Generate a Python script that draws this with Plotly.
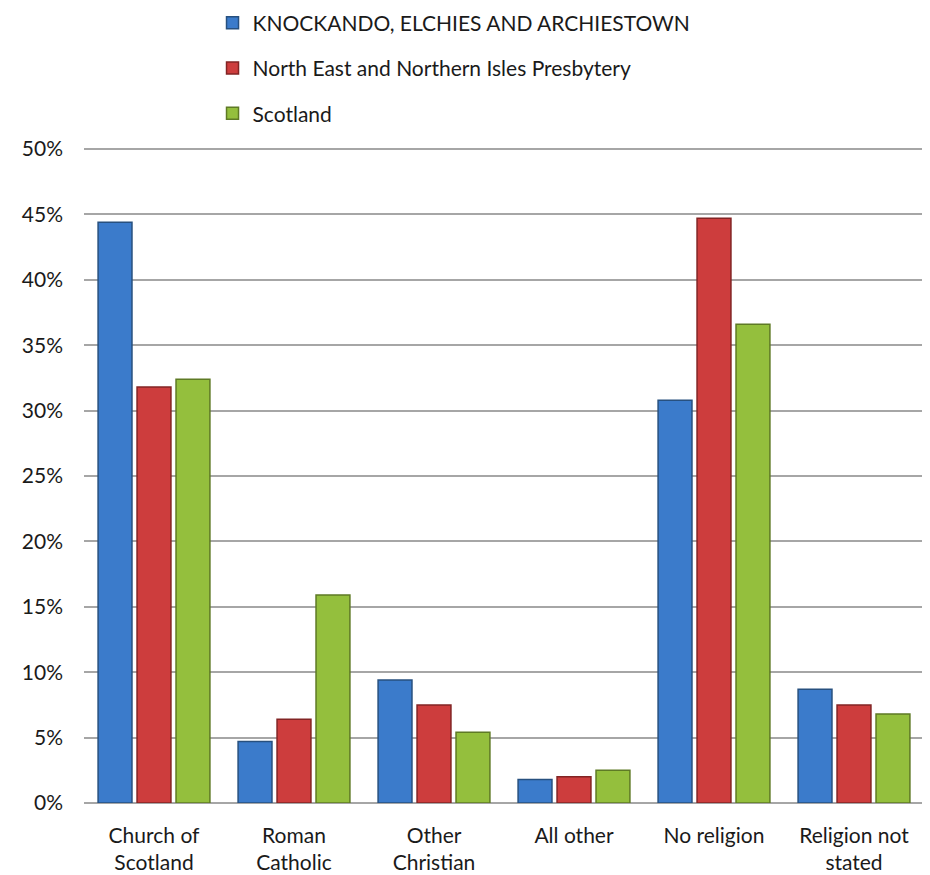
import plotly.graph_objects as go

categories = ["Church of<br>Scotland", "Roman<br>Catholic", "Other<br>Christian",
              "All other", "No religion", "Religion not<br>stated"]
series_names = ["KNOCKANDO, ELCHIES AND ARCHIESTOWN",
                "North East and Northern Isles Presbytery",
                "Scotland"]
knockando = [44.4, 4.7, 9.4, 1.8, 30.8, 8.7]
presbytery = [31.8, 6.4, 7.5, 2.0, 44.7, 7.5]
scotland = [32.4, 15.9, 5.4, 2.5, 36.6, 6.8]
y_ticks = [0, 5, 10, 15, 20, 25, 30, 35, 40, 45, 50]
y_tick_labels = [f"{v}%" for v in y_ticks]

series_values = [knockando, presbytery, scotland]
fills = ["#3b7bcb", "#cd3d3d", "#94bf3d"]
edges = ["#27507f", "#822424", "#5e7a25"]

fig = go.Figure()
for i, (name, vals) in enumerate(zip(series_names, series_values)):
    fig.add_trace(go.Bar(
        name=name, x=categories, y=vals,
        marker=dict(color=fills[i], line=dict(color=edges[i], width=1.5)),
        legendgroup=f"g{i}",
    ))

font = "Lato, Carlito, 'Open Sans', sans-serif"
fig.update_layout(
    width=930, height=875,
    margin=dict(l=76, r=14, t=140, b=80, autoexpand=False),
    paper_bgcolor="white", plot_bgcolor="white",
    barmode="group", bargap=0.165, bargroupgap=0.13,
    font=dict(family=font, size=21, color="#1a1a1a"),
    showlegend=True,
    legend=dict(x=0.153, y=1.222, xanchor="left", yanchor="top",
                orientation="v", tracegroupgap=15, bgcolor="rgba(0,0,0,0)",
                font=dict(size=21), itemwidth=30),
    xaxis=dict(showgrid=False, showline=False, ticks="",
               ticklabelstandoff=18, tickfont=dict(size=21)),
    yaxis=dict(range=[0, 50.08], tickvals=y_ticks, ticktext=y_tick_labels,
               showgrid=True, gridcolor="#a6a6a6", gridwidth=1.5,
               zeroline=True, zerolinecolor="#a6a6a6", zerolinewidth=1.5,
               showline=False, ticks="", ticklabelstandoff=20,
               tickfont=dict(size=21)),
)

fig.write_html("out.html")
